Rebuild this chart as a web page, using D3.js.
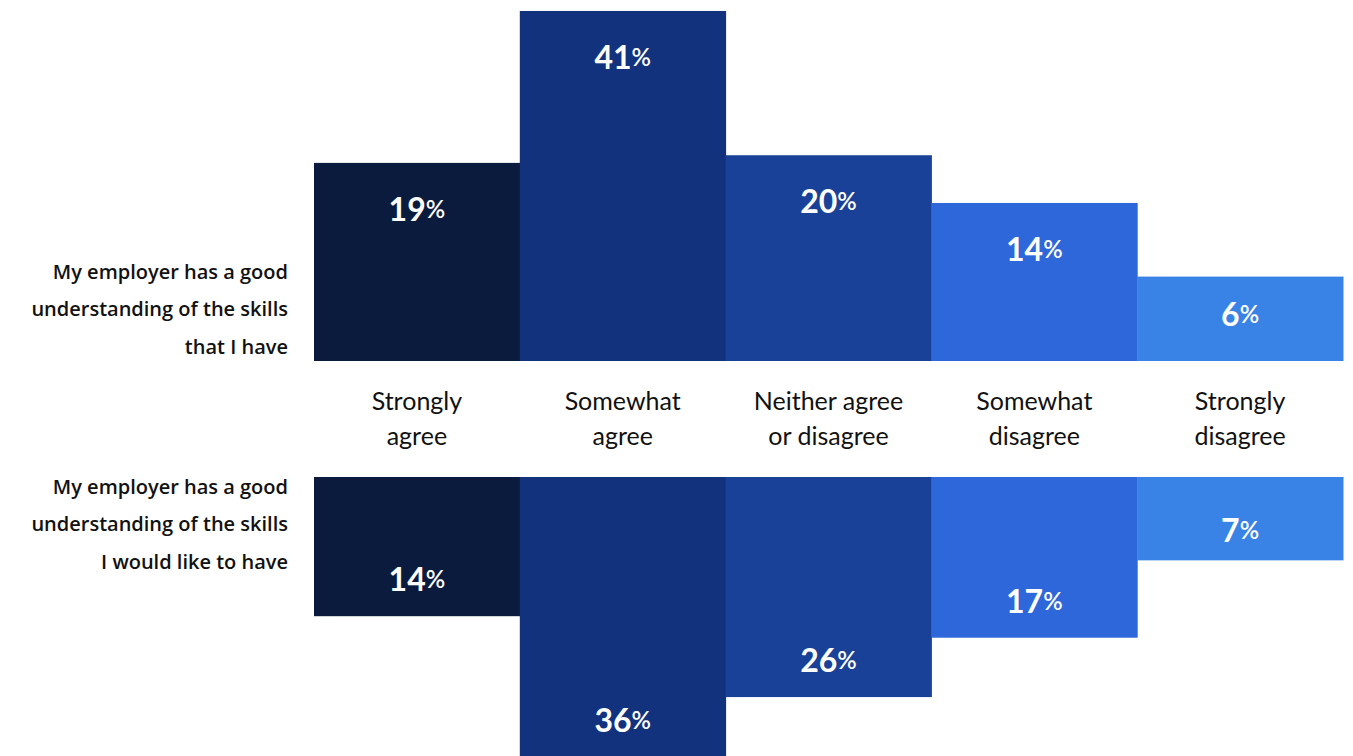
<script src="https://cdn.jsdelivr.net/npm/d3@7"></script>
<style>
body { margin: 0; background: #fff; }
svg { display: block; }
.cat { font: 400 25px Lato, sans-serif; fill: #111; }
.question { font: 600 20px "Open Sans", sans-serif; fill: #111; }
.val { font: 700 32px Lato, sans-serif; fill: #fff; }
.val tspan.pct { font-size: 24px; font-weight: 600; }
</style>
<div id="chart"></div>
<script>
var categories = ["Strongly agree", "Somewhat agree", "Neither agree or disagree", "Somewhat disagree", "Strongly disagree"];
var categoryLines = [["Strongly", "agree"], ["Somewhat", "agree"], ["Neither agree", "or disagree"], ["Somewhat", "disagree"], ["Strongly", "disagree"]];
var skillsHave = [19, 41, 20, 14, 6];
var skillsWant = [14, 36, 26, 17, 7];
var questionHave = ["My employer has a good", "understanding of the skills", "that I have"];
var questionWant = ["My employer has a good", "understanding of the skills", "I would like to have"];
var colors = ["#0a1b3e", "#12327e", "#1a4198", "#2e67da", "#3983e6"];

var W = 1353, H = 756;
var topBase = 361, botBase = 477;

var svg = d3.select("#chart").append("svg")
    .attr("width", W)
    .attr("height", H);

var x = d3.scaleBand().domain(categories).range([314, 1343]).padding(0);
var color = d3.scaleOrdinal().domain(categories).range(colors);

// bar heights are not linear in the original; a pow scale fits them well
var hTop = d3.scalePow().exponent(0.74).domain([0, d3.max(skillsHave)]).range([0, 350]);
var hBot = d3.scalePow().exponent(0.74).domain([0, d3.max(skillsWant)]).range([0, 280]);

var have = categories.map((c, i) => ({cat: c, v: skillsHave[i]}));
var want = categories.map((c, i) => ({cat: c, v: skillsWant[i]}));

// top row, bars grow upward
svg.append("g").selectAll("rect").data(have).enter().append("rect")
    .attr("x", d => x(d.cat))
    .attr("width", x.bandwidth() + 0.5)
    .attr("y", d => topBase - hTop(d.v))
    .attr("height", d => hTop(d.v))
    .attr("fill", d => color(d.cat));

// bottom row, bars grow downward
svg.append("g").selectAll("rect").data(want).enter().append("rect")
    .attr("x", d => x(d.cat))
    .attr("width", x.bandwidth() + 0.5)
    .attr("y", botBase)
    .attr("height", d => hBot(d.v))
    .attr("fill", d => color(d.cat));

function valueLabel(sel) {
  sel.append("tspan").text(d => d.v);
  sel.append("tspan").attr("class", "pct").text("%");
}

svg.append("g").selectAll("text").data(have).enter().append("text")
    .attr("class", "val")
    .attr("text-anchor", "middle")
    .attr("dominant-baseline", "central")
    .attr("x", d => x(d.cat) + x.bandwidth() / 2)
    .attr("y", d => { var h = hTop(d.v); return topBase - h + Math.min(45, h / 2 - 6); })
    .call(valueLabel);

svg.append("g").selectAll("text").data(want).enter().append("text")
    .attr("class", "val")
    .attr("text-anchor", "middle")
    .attr("dominant-baseline", "central")
    .attr("x", d => x(d.cat) + x.bandwidth() / 2)
    .attr("y", d => { var h = hBot(d.v); return botBase + h - Math.min(38, h / 2 - 10); })
    .call(valueLabel);

// category labels between rows
var cats = svg.append("g").selectAll("text").data(categories).enter().append("text")
    .attr("class", "cat")
    .attr("text-anchor", "middle")
    .attr("x", d => x(d) + x.bandwidth() / 2);
cats.selectAll("tspan").data((d, i) => categoryLines[i]).enter().append("tspan")
    .attr("x", function() { return this.parentNode.getAttribute("x"); })
    .attr("y", (d, j) => 400 + j * 35)
    .attr("dominant-baseline", "central")
    .text(d => d);

function question(lines, y0) {
  svg.append("text")
      .attr("class", "question")
      .attr("text-anchor", "end")
    .selectAll("tspan").data(lines).enter().append("tspan")
      .attr("x", 288)
      .attr("y", (d, j) => y0 + j * 37.5)
      .attr("dominant-baseline", "central")
      .text(d => d);
}
question(questionHave, 271);
question(questionWant, 486);
</script>
